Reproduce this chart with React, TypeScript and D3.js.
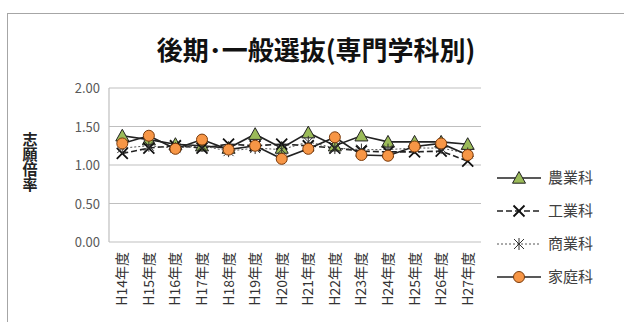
import React from 'react';
import * as d3 from 'd3';

const years = ['H14年度', 'H15年度', 'H16年度', 'H17年度', 'H18年度', 'H19年度', 'H20年度', 'H21年度', 'H22年度', 'H23年度', 'H24年度', 'H25年度', 'H26年度', 'H27年度'];
const nougyou = [1.38, 1.33, 1.27, 1.25, 1.22, 1.40, 1.22, 1.42, 1.25, 1.38, 1.30, 1.30, 1.30, 1.27];
const kougyou = [1.15, 1.22, 1.25, 1.22, 1.27, 1.25, 1.27, 1.25, 1.22, 1.18, 1.17, 1.17, 1.18, 1.05];
const shougyou = [1.22, 1.25, 1.22, 1.25, 1.18, 1.22, 1.20, 1.30, 1.22, 1.20, 1.20, 1.22, 1.22, 1.15];
const katei = [1.28, 1.38, 1.21, 1.33, 1.20, 1.25, 1.08, 1.21, 1.36, 1.13, 1.12, 1.24, 1.28, 1.13];
const yTicks = [0, 0.5, 1, 1.5, 2];

const seriesNames = ['農業科', '工業科', '商業科', '家庭科'];
const seriesValues = [nougyou, kougyou, shougyou, katei];
const dashes = [null, '6,3', '2,2', null];

const font = '"Noto Sans CJK JP", "Noto Sans", sans-serif';

function Marker({ kind, x, y }: { kind: number; x: number; y: number }) {
  if (kind === 0) {
    const s = 6.5;
    return <path d={`M${x},${y - s}L${x + s},${y + s * 0.8}L${x - s},${y + s * 0.8}Z`} fill="#9bbb59" stroke="#222" strokeWidth={1} />;
  }
  if (kind === 1) {
    const s = 5.5;
    return <path d={`M${x - s},${y - s}L${x + s},${y + s}M${x + s},${y - s}L${x - s},${y + s}`} stroke="#111" strokeWidth={1.8} />;
  }
  if (kind === 2) {
    const s = 5;
    return <path d={`M${x - s},${y - s}L${x + s},${y + s}M${x + s},${y - s}L${x - s},${y + s}M${x},${y - s - 1}L${x},${y + s + 1}`} stroke="#333" strokeWidth={1} />;
  }
  return <circle cx={x} cy={y} r={5.5} fill="#f79646" stroke="#7a3b0c" strokeWidth={1} />;
}

export default function App() {
  const width = 624;
  const height = 322;
  const plot = { left: 109, right: 481, top: 88, bottom: 242 };

  const x = d3.scaleBand().domain(years).range([plot.left, plot.right]).padding(0);
  const cx = (d: string) => (x(d) as number) + x.bandwidth() / 2;
  const y = d3.scaleLinear().domain([0, 2]).range([plot.bottom, plot.top]);

  const line = d3.line<number>()
    .x((_, i) => cx(years[i]))
    .y(d => y(d));

  const legendY = [178, 211, 244, 277];

  return (
    <div style={{ position: 'fixed', left: 0, top: 0 }}>
      <svg width={width} height={height} style={{ display: 'block', background: '#fff' }}>
        <rect x={7.5} y={13.5} width={width} height={height} fill="#fff" stroke="#a6a6a6" strokeWidth={1} />
        <text x={316} y={60} textAnchor="middle" fontFamily={font} fontWeight="bold" fontSize={26} fill="#111">
          後期･一般選抜(専門学科別)
        </text>

        {yTicks.map(t => (
          <g key={t}>
            <line x1={plot.left} x2={plot.right} y1={y(t)} y2={y(t)} stroke="#bfbfbf" strokeWidth={1.2} />
            <text x={100} y={y(t) + 5} textAnchor="end" fontFamily={font} fontSize={13} fill="#595959">
              {d3.format('.2f')(t)}
            </text>
          </g>
        ))}
        <line x1={plot.left} x2={plot.left} y1={plot.top} y2={plot.bottom} stroke="#bfbfbf" strokeWidth={1.2} />

        <text x={30} y={132} style={{ writingMode: 'vertical-rl' }} fontFamily={font} fontWeight="bold" fontSize={15} fill="#222">
          志願倍率
        </text>

        {years.map(d => (
          <text key={d} transform={`translate(${cx(d) + 5},252) rotate(-90)`} textAnchor="end" fontFamily={font} fontSize={14} fill="#333">
            {d}
          </text>
        ))}

        {seriesValues.map((vals, k) => (
          <path key={k} d={line(vals) || ''} fill="none" stroke={k === 2 ? '#555' : '#222'} strokeWidth={k === 2 ? 1 : 1.6} strokeDasharray={dashes[k] || undefined} />
        ))}
        {seriesValues.map((vals, k) => (
          <g key={k}>
            {vals.map((v, i) => <Marker key={i} kind={k} x={cx(years[i])} y={y(v)} />)}
          </g>
        ))}

        {seriesNames.map((n, k) => (
          <g key={n}>
            <line x1={497} x2={541} y1={legendY[k]} y2={legendY[k]} stroke={k === 2 ? '#555' : '#222'} strokeWidth={k === 2 ? 1 : 1.6} strokeDasharray={dashes[k] || undefined} />
            <Marker kind={k} x={519} y={legendY[k]} />
            <text x={548} y={legendY[k] + 5} fontFamily={font} fontSize={15} fill="#404040">{n}</text>
          </g>
        ))}
      </svg>
    </div>
  );
}
